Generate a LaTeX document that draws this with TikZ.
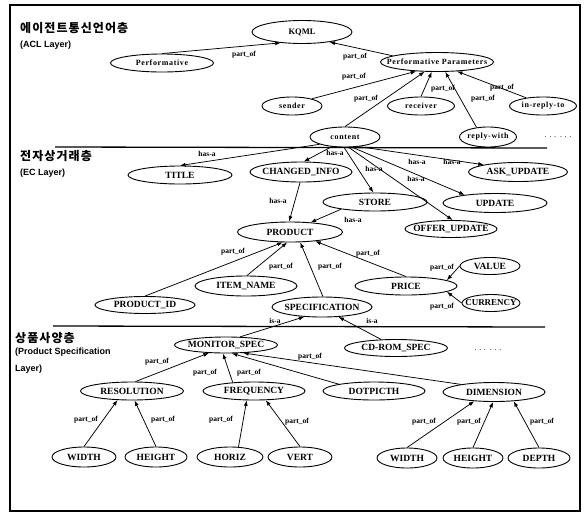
\documentclass[tikz,border=0pt]{standalone}
\usepackage{fontspec}
\setmainfont{Liberation Serif}
\newfontfamily\krfont{Noto Sans CJK KR}[LetterSpace=9]
\newfontfamily\headfont{Liberation Sans}
\newfontfamily\lsfont{Liberation Serif}[LetterSpace=8]
\usetikzlibrary{shapes.geometric,arrows.meta}
\newcommand\ctext[1]{\makebox[0pt]{#1}}
\begin{document}
\begin{tikzpicture}[x=1pt,y=-1pt,
  el/.style 2 args={draw, ellipse, line width=0.9pt, minimum width=#1pt, minimum height=#2pt, inner sep=0pt, font=\bfseries\fontsize{9.5}{10}\selectfont},
  sel/.style 2 args={el={#1}{#2}, font=\lsfont\bfseries\fontsize{8}{8}\selectfont},
  lbl/.style={inner sep=0pt, font=\bfseries\fontsize{7.5}{8}\selectfont},
  arr/.style={line width=0.75pt, -{Latex[length=5.5pt,width=4pt]}},
  sepline/.style={line width=1.3pt},
  head/.style={anchor=west, inner sep=0pt, font=\krfont\bfseries\fontsize{12}{12}\selectfont},
  headen/.style={anchor=west, inner sep=0pt, font=\headfont\bfseries\fontsize{9}{10}\selectfont},
  dots/.style={inner sep=0pt, font=\fontsize{8}{8}\selectfont}]
\useasboundingbox (0,0) rectangle (584,515);
\draw[line width=1.2pt] (10,5) rectangle (580,511);

% layer headings
\node[head] (hacl) at (20,28) {에이전트통신언어층};
\node[headen] (hacle) at (20,45) {(ACL Layer)};
\node[head] (hec) at (20,156) {전자상거래층};
\node[headen] (hece) at (20,173) {(EC Layer)};
\node[head] (hps) at (15,338) {상품사양층};
\node[headen] (hpse) at (15,352) {(Product Specification};
\node[headen] (hpse2) at (15,369) {Layer)};

% separators
\coordinate (s1a) at (55,147); \coordinate (s1b) at (547,148);
\coordinate (s2a) at (53,326); \coordinate (s2b) at (545,327);
\draw[sepline] (s1a) -- (s1b);
\draw[sepline] (s2a) -- (s2b);

% ACL layer
\node[el={100}{23}, font=\bfseries\fontsize{8.5}{9}\selectfont] (kqml) at (302,32) {\ctext{KQML}};
\node[sel={103}{18}] (perf) at (162,63) {\ctext{Performative}};
\node[sel={113}{19}] (pp) at (437,62) {\ctext{Performative Parameters}};
\node[sel={60}{18}] (sender) at (292,106) {\ctext{sender}};
\node[sel={70}{20}] (content) at (345,137) {\ctext{content}};
\node[sel={67}{18}] (receiver) at (421,106) {\ctext{receiver}};
\node[sel={57}{20}] (replywith) at (488,137) {\ctext{reply-with}};
\node[sel={67}{18}] (inreply) at (543,106) {\ctext{in-reply-to}};
\node[dots] (dots1) at (558,137) {. . .\ \ . . .};

\draw[arr] (perf.north) -- (kqml.207);
\draw[arr] (pp.172) -- (kqml.340);
\draw[arr] (sender.20) -- (pp.204);
\draw[arr] (content.north) -- (pp.218);
\draw[arr] (receiver.north) -- (pp.242);
\draw[arr] (replywith.140) -- (pp.310);
\draw[arr] (inreply.154) -- (pp.335);

\node[lbl] (l1) at (244,55) {part\_of};
\node[lbl] (l2) at (355,57) {part\_of};
\node[lbl] (l3) at (354,77) {part\_of};
\node[lbl] (l4) at (366,99) {part\_of};
\node[lbl] (l5) at (443,89) {part\_of};
\node[lbl] (l6) at (483,99) {part\_of};
\node[lbl] (l7) at (502,88) {part\_of};

% EC layer
\node[el={104}{18}] (title) at (180,175) {\ctext{TITLE}};
\node[el={102}{20}] (ci) at (301,172) {\ctext{CHANGED\_INFO}};
\node[el={99}{19}] (ask) at (518,172) {\ctext{ASK\_UPDATE}};
\node[el={104}{18}] (store) at (375,202) {\ctext{STORE}};
\node[el={104}{19}] (update) at (495,203) {\ctext{UPDATE}};
\node[el={92}{17}] (offer) at (451,229) {\ctext{OFFER\_UPDATE}};
\node[el={105}{20}] (product) at (290,232) {\ctext{PRODUCT}};
\node[el={100}{17}] (pid) at (145,305) {\ctext{PRODUCT\_ID}};
\node[el={102}{20}] (item) at (246,286) {\ctext{ITEM\_NAME}};
\node[el={100}{20}] (spec) at (322,307) {\ctext{SPECIFICATION}};
\node[el={102}{18}] (price) at (406,286) {\ctext{PRICE}};
\node[el={60}{17}] (value) at (490,266) {\ctext{VALUE}};
\node[el={58}{17}, font=\bfseries\fontsize{9}{9}\selectfont] (currency) at (491,303) {\ctext{CURRENCY}};

\draw[arr] (content.196) -- (title.north);
\draw[arr] (content.216) -- (ci.75);
\draw[arr] (content.265) -- (store.100);
\draw[arr] (content.290) -- (offer.80);
\draw[arr] (content.305) -- (update.165);
\draw[arr] (content.325) -- (ask.168);
\draw[arr] (ci.265) -- (product.95);
\draw[arr] (store.192) -- (product.25);
\draw[arr] (pid.north) -- (product.235);
\draw[arr] (item.85) -- (product.255);
\draw[arr] (spec.85) -- (product.315);
\draw[arr] (price.north) -- (product.340);
\draw[arr] (value.west) -- (price.8);
\draw[arr] (currency.west) -- (price.352);

\node[lbl] (h1l) at (207,154) {has-a};
\node[lbl] (h2l) at (335,153) {has-a};
\node[lbl] (h3l) at (374,169) {has-a};
\node[lbl] (h4l) at (417,162) {has-a};
\node[lbl] (h5l) at (452,162) {has-a};
\node[lbl] (h6l) at (416,179) {has-a};
\node[lbl] (h7l) at (278,201) {has-a};
\node[lbl] (h8l) at (353,220) {has-a};
\node[lbl] (p1l) at (233,252) {part\_of};
\node[lbl] (p2l) at (281,267) {part\_of};
\node[lbl] (p3l) at (330,267) {part\_of};
\node[lbl] (p4l) at (368,254) {part\_of};
\node[lbl] (p5l) at (442,268) {part\_of};
\node[lbl] (p6l) at (442,307) {part\_of};

% Product specification layer
\node[el={103}{16}] (mon) at (226,345) {\ctext{MONITOR\_SPEC}};
\node[el={103}{17}] (cd) at (396,348) {\ctext{CD-ROM\_SPEC}};
\node[dots] (dots2) at (488,350) {. . .\ \ . . .};
\node[el={103}{18}] (res) at (132,391) {\ctext{RESOLUTION}};
\node[el={102}{18}] (freq) at (254,391) {\ctext{FREQUENCY}};
\node[el={102}{18}] (dot) at (374,391) {\ctext{DOTPICTH}};
\node[el={102}{19}] (dim) at (494,392) {\ctext{DIMENSION}};
\node[el={64}{20}] (w1) at (84,457) {\ctext{WIDTH}};
\node[el={62}{20}] (h1) at (156,457) {\ctext{HEIGHT}};
\node[el={66}{20}] (horiz) at (230,457) {\ctext{HORIZ}};
\node[el={64}{20}] (vert) at (300,457) {\ctext{VERT}};
\node[el={60}{20}] (w2) at (407,458) {\ctext{WIDTH}};
\node[el={60}{20}] (h2) at (473,458) {\ctext{HEIGHT}};
\node[el={62}{20}] (depth) at (539,458) {\ctext{DEPTH}};

\draw[arr] (mon.30) -- (spec.209);
\draw[arr] (cd.150) -- (spec.329);
\draw[arr] (res.70) -- (mon.205);
\draw[arr] (freq.158) -- (mon.250);
\draw[arr] (dot.169) -- (mon.305);
\draw[arr] (dim.167) -- (mon.335);
\draw[arr] (w1.north) -- (res.212);
\draw[arr] (h1.north) -- (res.285);
\draw[arr] (horiz.50) -- (freq.232);
\draw[arr] (vert.north) -- (freq.322);
\draw[arr] (w2.north) -- (dim.205);
\draw[arr] (h2.north) -- (dim.265);
\draw[arr] (depth.north) -- (dim.335);

\node[lbl] (i1l) at (275,321) {is-a};
\node[lbl] (i2l) at (372,321) {is-a};
\node[lbl] (q1l) at (157,362) {part\_of};
\node[lbl] (q2l) at (205,373) {part\_of};
\node[lbl] (q3l) at (249,373) {part\_of};
\node[lbl] (q4l) at (310,357) {part\_of};
\node[lbl] (q5l) at (86,420) {part\_of};
\node[lbl] (q6l) at (163,420) {part\_of};
\node[lbl] (q7l) at (221,420) {part\_of};
\node[lbl] (q8l) at (297,422) {part\_of};
\node[lbl] (q9l) at (424,422) {part\_of};
\node[lbl] (q10l) at (469,422) {part\_of};
\node[lbl] (q11l) at (542,422) {part\_of};
\end{tikzpicture}
\end{document}
